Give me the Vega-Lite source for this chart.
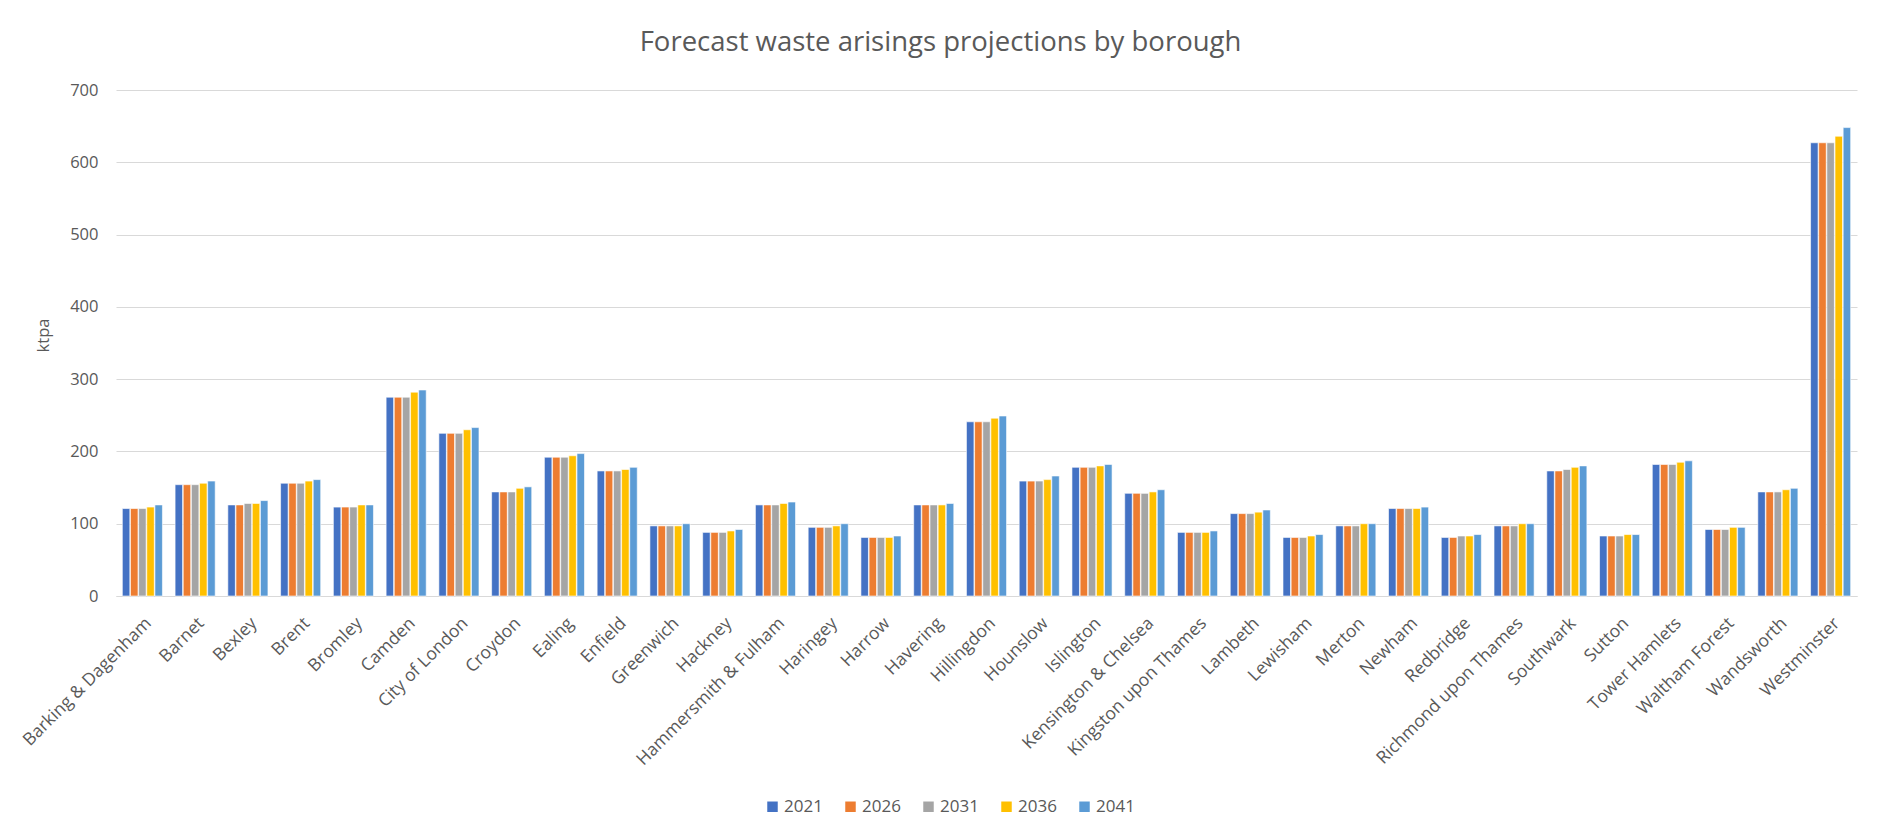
{
  "$schema": "https://vega.github.io/schema/vega-lite/v6.json",
  "autosize": {"type": "none"},
  "width": 1741,
  "height": 506,
  "padding": {"left": 116, "top": 90, "right": 20, "bottom": 237},
  "background": "white",
  "title": {
    "text": "Forecast waste arisings projections by borough",
    "anchor": "middle",
    "font": "Open Sans",
    "fontSize": 27.5,
    "fontWeight": "normal",
    "color": "#595959",
    "offset": 26,
    "dx": -46
  },
  "config": {
    "font": "Open Sans",
    "view": {"stroke": null},
    "axis": {
      "labelColor": "#595959",
      "titleColor": "#595959",
      "labelFont": "Open Sans",
      "titleFont": "Open Sans",
      "gridColor": "#D9D9D9",
      "domainColor": "#D9D9D9",
      "ticks": false
    },
    "legend": {
      "labelColor": "#595959",
      "labelFont": "Open Sans"
    }
  },
  "data": {
    "values": [
      {"borough": "Barking & Dagenham", "year": "2021", "ktpa": 121},
      {"borough": "Barking & Dagenham", "year": "2026", "ktpa": 121},
      {"borough": "Barking & Dagenham", "year": "2031", "ktpa": 121},
      {"borough": "Barking & Dagenham", "year": "2036", "ktpa": 123},
      {"borough": "Barking & Dagenham", "year": "2041", "ktpa": 126},
      {"borough": "Barnet", "year": "2021", "ktpa": 154},
      {"borough": "Barnet", "year": "2026", "ktpa": 154},
      {"borough": "Barnet", "year": "2031", "ktpa": 154},
      {"borough": "Barnet", "year": "2036", "ktpa": 156},
      {"borough": "Barnet", "year": "2041", "ktpa": 159},
      {"borough": "Bexley", "year": "2021", "ktpa": 126},
      {"borough": "Bexley", "year": "2026", "ktpa": 126},
      {"borough": "Bexley", "year": "2031", "ktpa": 128},
      {"borough": "Bexley", "year": "2036", "ktpa": 128},
      {"borough": "Bexley", "year": "2041", "ktpa": 132},
      {"borough": "Brent", "year": "2021", "ktpa": 156},
      {"borough": "Brent", "year": "2026", "ktpa": 156},
      {"borough": "Brent", "year": "2031", "ktpa": 156},
      {"borough": "Brent", "year": "2036", "ktpa": 159},
      {"borough": "Brent", "year": "2041", "ktpa": 161},
      {"borough": "Bromley", "year": "2021", "ktpa": 123},
      {"borough": "Bromley", "year": "2026", "ktpa": 123},
      {"borough": "Bromley", "year": "2031", "ktpa": 123},
      {"borough": "Bromley", "year": "2036", "ktpa": 126},
      {"borough": "Bromley", "year": "2041", "ktpa": 126},
      {"borough": "Camden", "year": "2021", "ktpa": 275},
      {"borough": "Camden", "year": "2026", "ktpa": 275},
      {"borough": "Camden", "year": "2031", "ktpa": 275},
      {"borough": "Camden", "year": "2036", "ktpa": 282},
      {"borough": "Camden", "year": "2041", "ktpa": 285},
      {"borough": "City of London", "year": "2021", "ktpa": 225},
      {"borough": "City of London", "year": "2026", "ktpa": 225},
      {"borough": "City of London", "year": "2031", "ktpa": 225},
      {"borough": "City of London", "year": "2036", "ktpa": 230},
      {"borough": "City of London", "year": "2041", "ktpa": 233},
      {"borough": "Croydon", "year": "2021", "ktpa": 144},
      {"borough": "Croydon", "year": "2026", "ktpa": 144},
      {"borough": "Croydon", "year": "2031", "ktpa": 144},
      {"borough": "Croydon", "year": "2036", "ktpa": 149},
      {"borough": "Croydon", "year": "2041", "ktpa": 151},
      {"borough": "Ealing", "year": "2021", "ktpa": 192},
      {"borough": "Ealing", "year": "2026", "ktpa": 192},
      {"borough": "Ealing", "year": "2031", "ktpa": 192},
      {"borough": "Ealing", "year": "2036", "ktpa": 194},
      {"borough": "Ealing", "year": "2041", "ktpa": 197},
      {"borough": "Enfield", "year": "2021", "ktpa": 173},
      {"borough": "Enfield", "year": "2026", "ktpa": 173},
      {"borough": "Enfield", "year": "2031", "ktpa": 173},
      {"borough": "Enfield", "year": "2036", "ktpa": 175},
      {"borough": "Enfield", "year": "2041", "ktpa": 178},
      {"borough": "Greenwich", "year": "2021", "ktpa": 97},
      {"borough": "Greenwich", "year": "2026", "ktpa": 97},
      {"borough": "Greenwich", "year": "2031", "ktpa": 97},
      {"borough": "Greenwich", "year": "2036", "ktpa": 97},
      {"borough": "Greenwich", "year": "2041", "ktpa": 100},
      {"borough": "Hackney", "year": "2021", "ktpa": 88},
      {"borough": "Hackney", "year": "2026", "ktpa": 88},
      {"borough": "Hackney", "year": "2031", "ktpa": 88},
      {"borough": "Hackney", "year": "2036", "ktpa": 90},
      {"borough": "Hackney", "year": "2041", "ktpa": 92},
      {"borough": "Hammersmith & Fulham", "year": "2021", "ktpa": 126},
      {"borough": "Hammersmith & Fulham", "year": "2026", "ktpa": 126},
      {"borough": "Hammersmith & Fulham", "year": "2031", "ktpa": 126},
      {"borough": "Hammersmith & Fulham", "year": "2036", "ktpa": 128},
      {"borough": "Hammersmith & Fulham", "year": "2041", "ktpa": 130},
      {"borough": "Haringey", "year": "2021", "ktpa": 95},
      {"borough": "Haringey", "year": "2026", "ktpa": 95},
      {"borough": "Haringey", "year": "2031", "ktpa": 95},
      {"borough": "Haringey", "year": "2036", "ktpa": 97},
      {"borough": "Haringey", "year": "2041", "ktpa": 100},
      {"borough": "Harrow", "year": "2021", "ktpa": 81},
      {"borough": "Harrow", "year": "2026", "ktpa": 81},
      {"borough": "Harrow", "year": "2031", "ktpa": 81},
      {"borough": "Harrow", "year": "2036", "ktpa": 81},
      {"borough": "Harrow", "year": "2041", "ktpa": 83},
      {"borough": "Havering", "year": "2021", "ktpa": 126},
      {"borough": "Havering", "year": "2026", "ktpa": 126},
      {"borough": "Havering", "year": "2031", "ktpa": 126},
      {"borough": "Havering", "year": "2036", "ktpa": 126},
      {"borough": "Havering", "year": "2041", "ktpa": 128},
      {"borough": "Hillingdon", "year": "2021", "ktpa": 241},
      {"borough": "Hillingdon", "year": "2026", "ktpa": 241},
      {"borough": "Hillingdon", "year": "2031", "ktpa": 241},
      {"borough": "Hillingdon", "year": "2036", "ktpa": 246},
      {"borough": "Hillingdon", "year": "2041", "ktpa": 249},
      {"borough": "Hounslow", "year": "2021", "ktpa": 159},
      {"borough": "Hounslow", "year": "2026", "ktpa": 159},
      {"borough": "Hounslow", "year": "2031", "ktpa": 159},
      {"borough": "Hounslow", "year": "2036", "ktpa": 161},
      {"borough": "Hounslow", "year": "2041", "ktpa": 166},
      {"borough": "Islington", "year": "2021", "ktpa": 178},
      {"borough": "Islington", "year": "2026", "ktpa": 178},
      {"borough": "Islington", "year": "2031", "ktpa": 178},
      {"borough": "Islington", "year": "2036", "ktpa": 180},
      {"borough": "Islington", "year": "2041", "ktpa": 182},
      {"borough": "Kensington & Chelsea", "year": "2021", "ktpa": 142},
      {"borough": "Kensington & Chelsea", "year": "2026", "ktpa": 142},
      {"borough": "Kensington & Chelsea", "year": "2031", "ktpa": 142},
      {"borough": "Kensington & Chelsea", "year": "2036", "ktpa": 144},
      {"borough": "Kensington & Chelsea", "year": "2041", "ktpa": 147},
      {"borough": "Kingston upon Thames", "year": "2021", "ktpa": 88},
      {"borough": "Kingston upon Thames", "year": "2026", "ktpa": 88},
      {"borough": "Kingston upon Thames", "year": "2031", "ktpa": 88},
      {"borough": "Kingston upon Thames", "year": "2036", "ktpa": 88},
      {"borough": "Kingston upon Thames", "year": "2041", "ktpa": 90},
      {"borough": "Lambeth", "year": "2021", "ktpa": 114},
      {"borough": "Lambeth", "year": "2026", "ktpa": 114},
      {"borough": "Lambeth", "year": "2031", "ktpa": 114},
      {"borough": "Lambeth", "year": "2036", "ktpa": 116},
      {"borough": "Lambeth", "year": "2041", "ktpa": 119},
      {"borough": "Lewisham", "year": "2021", "ktpa": 81},
      {"borough": "Lewisham", "year": "2026", "ktpa": 81},
      {"borough": "Lewisham", "year": "2031", "ktpa": 81},
      {"borough": "Lewisham", "year": "2036", "ktpa": 83},
      {"borough": "Lewisham", "year": "2041", "ktpa": 85},
      {"borough": "Merton", "year": "2021", "ktpa": 97},
      {"borough": "Merton", "year": "2026", "ktpa": 97},
      {"borough": "Merton", "year": "2031", "ktpa": 97},
      {"borough": "Merton", "year": "2036", "ktpa": 100},
      {"borough": "Merton", "year": "2041", "ktpa": 100},
      {"borough": "Newham", "year": "2021", "ktpa": 121},
      {"borough": "Newham", "year": "2026", "ktpa": 121},
      {"borough": "Newham", "year": "2031", "ktpa": 121},
      {"borough": "Newham", "year": "2036", "ktpa": 121},
      {"borough": "Newham", "year": "2041", "ktpa": 123},
      {"borough": "Redbridge", "year": "2021", "ktpa": 81},
      {"borough": "Redbridge", "year": "2026", "ktpa": 81},
      {"borough": "Redbridge", "year": "2031", "ktpa": 83},
      {"borough": "Redbridge", "year": "2036", "ktpa": 83},
      {"borough": "Redbridge", "year": "2041", "ktpa": 85},
      {"borough": "Richmond upon Thames", "year": "2021", "ktpa": 97},
      {"borough": "Richmond upon Thames", "year": "2026", "ktpa": 97},
      {"borough": "Richmond upon Thames", "year": "2031", "ktpa": 97},
      {"borough": "Richmond upon Thames", "year": "2036", "ktpa": 100},
      {"borough": "Richmond upon Thames", "year": "2041", "ktpa": 100},
      {"borough": "Southwark", "year": "2021", "ktpa": 173},
      {"borough": "Southwark", "year": "2026", "ktpa": 173},
      {"borough": "Southwark", "year": "2031", "ktpa": 175},
      {"borough": "Southwark", "year": "2036", "ktpa": 178},
      {"borough": "Southwark", "year": "2041", "ktpa": 180},
      {"borough": "Sutton", "year": "2021", "ktpa": 83},
      {"borough": "Sutton", "year": "2026", "ktpa": 83},
      {"borough": "Sutton", "year": "2031", "ktpa": 83},
      {"borough": "Sutton", "year": "2036", "ktpa": 85},
      {"borough": "Sutton", "year": "2041", "ktpa": 85},
      {"borough": "Tower Hamlets", "year": "2021", "ktpa": 182},
      {"borough": "Tower Hamlets", "year": "2026", "ktpa": 182},
      {"borough": "Tower Hamlets", "year": "2031", "ktpa": 182},
      {"borough": "Tower Hamlets", "year": "2036", "ktpa": 185},
      {"borough": "Tower Hamlets", "year": "2041", "ktpa": 187},
      {"borough": "Waltham Forest", "year": "2021", "ktpa": 92},
      {"borough": "Waltham Forest", "year": "2026", "ktpa": 92},
      {"borough": "Waltham Forest", "year": "2031", "ktpa": 92},
      {"borough": "Waltham Forest", "year": "2036", "ktpa": 95},
      {"borough": "Waltham Forest", "year": "2041", "ktpa": 95},
      {"borough": "Wandsworth", "year": "2021", "ktpa": 144},
      {"borough": "Wandsworth", "year": "2026", "ktpa": 144},
      {"borough": "Wandsworth", "year": "2031", "ktpa": 144},
      {"borough": "Wandsworth", "year": "2036", "ktpa": 147},
      {"borough": "Wandsworth", "year": "2041", "ktpa": 149},
      {"borough": "Westminster", "year": "2021", "ktpa": 627},
      {"borough": "Westminster", "year": "2026", "ktpa": 627},
      {"borough": "Westminster", "year": "2031", "ktpa": 627},
      {"borough": "Westminster", "year": "2036", "ktpa": 636},
      {"borough": "Westminster", "year": "2041", "ktpa": 648}
    ]
  },
  "mark": {"type": "bar", "stroke": "white", "strokeWidth": 0.6},
  "encoding": {
    "x": {
      "field": "borough",
      "type": "nominal",
      "sort": null,
      "title": null,
      "scale": {"paddingInner": 0.24, "paddingOuter": 0.12},
      "axis": {
        "labelAngle": -45,
        "labelFontSize": 17.5,
        "labelPadding": 18,
        "labelDx": -5,
        "grid": false,
        "labelOverlap": false,
        "labelLimit": 400
      }
    },
    "xOffset": {
      "field": "year",
      "type": "nominal",
      "scale": {"paddingInner": 0.08}
    },
    "y": {
      "field": "ktpa",
      "type": "quantitative",
      "title": "ktpa",
      "scale": {"domain": [0, 700], "nice": false},
      "axis": {
        "values": [0, 100, 200, 300, 400, 500, 600, 700],
        "labelFontSize": 16.5,
        "labelPadding": 18,
        "titleFontSize": 16.5,
        "titleFontWeight": "normal",
        "titlePadding": 18,
        "titleY": 245,
        "domain": false
      }
    },
    "color": {
      "field": "year",
      "type": "nominal",
      "title": null,
      "scale": {
        "domain": ["2021", "2026", "2031", "2036", "2041"],
        "range": ["#4472C4", "#ED7D31", "#A5A5A5", "#FFC000", "#5B9BD5"]
      },
      "legend": {
        "orient": "none",
        "direction": "horizontal",
        "legendX": 648,
        "legendY": 708,
        "symbolType": "square",
        "symbolSize": 110,
        "symbolStrokeWidth": 0,
        "labelFontSize": 17,
        "labelOffset": 3,
        "columnPadding": 19
      }
    }
  }
}
